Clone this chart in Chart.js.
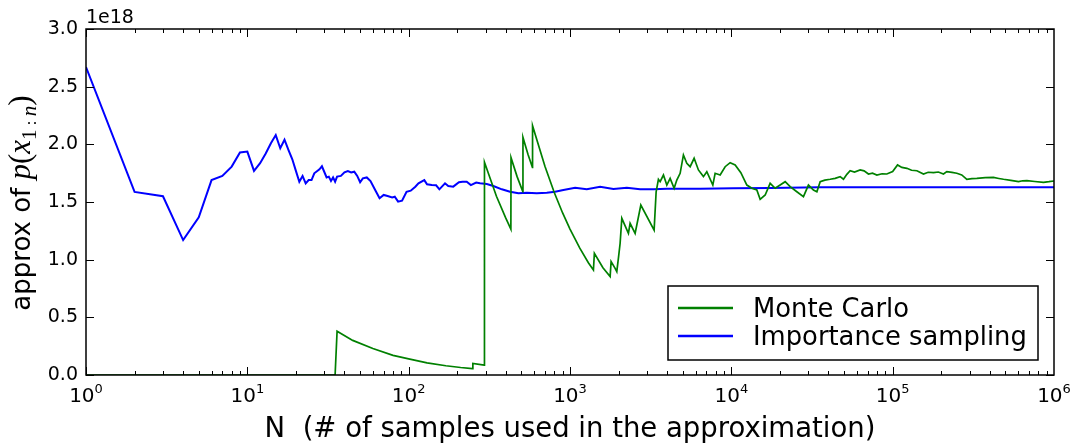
<!DOCTYPE html>
<html><head><meta charset="utf-8">
<script src="https://cdn.jsdelivr.net/npm/chart.js@4"></script>
<style>html,body{margin:0;padding:0;background:#fff}#wrap{width:1073px;height:444px}</style>
</head><body><div id="wrap"><canvas id="c" width="1073" height="444"></canvas></div>
<script>
// values in units of 1e18
const mcN=[1,35,36,45,60,80,100,130,170,210,
248,250,294,295,350,400,430,431,470,510,
511,550,585,586,700,800,900,1000,1150,1300,
1397,1416,1600,1773,1798,1904,1950,1995,2045,2095,
2302,2358,2533,2748,3322,3419,3532,3620,3795,3983,
4175,4420,4592,4816,5047,5297,5555,5879,6252,6714,
7047,7678,7935,8524,9155,9831,10560,11455,12480,13400,
14390,15090,16210,17400,18690,20070,21560,23150,25470,27990,
30060,32290,33900,35540,38000,40990,44000,47270,49550,52000,
54510,58000,62880,66500,70790,75000,79800,86000,92000,100000,
107200,114000,122500,131000,141300,155300,166000,179100,192000,206500,
216600,233000,249800,268000,288200,310000,332400,375000,421700,455000,
486500,540000,602600,640000,679500,760000,860800,930000,1000000];
const mcVal=[0,0,0.38,0.30,0.23,0.17,0.14,0.105,0.08,0.065,
0.056,0.10,0.085,1.844,1.55,1.36,1.265,1.884,1.72,1.59,
2.06,1.91,1.80,2.162,1.807,1.58,1.405,1.265,1.10,0.973,
0.91,1.055,0.93,0.853,0.983,0.925,0.896,1.012,1.142,1.358,
1.228,1.315,1.228,1.474,1.257,1.589,1.697,1.676,1.734,1.647,
1.705,1.619,1.69,1.749,1.908,1.836,1.806,1.879,1.778,1.72,
1.763,1.647,1.749,1.734,1.806,1.841,1.821,1.754,1.647,1.619,
1.604,1.523,1.561,1.662,1.619,1.647,1.676,1.633,1.589,1.546,
1.647,1.604,1.589,1.676,1.69,1.697,1.705,1.72,1.697,1.74,
1.771,1.76,1.778,1.77,1.743,1.75,1.734,1.745,1.743,1.765,
1.821,1.80,1.792,1.775,1.771,1.743,1.758,1.754,1.76,1.743,
1.763,1.757,1.749,1.735,1.697,1.703,1.705,1.712,1.713,1.704,
1.697,1.688,1.676,1.684,1.685,1.678,1.671,1.676,1.682];
const isN=[1,2,3,4,5,6,7,8,9,10,
11,12,13,14,15,16,17,18,19,20,
21,22,23,24,25,26,28,29,31,32,
33,34,35,36,38,40,42,44,46,48,
50,52,55,58,62,66,70,74,79,82,
86,91,97,103,110,115,125,130,139,148,
155,168,176,189,205,216,229,243,262,277,
305,335,378,425,479,540,622,718,808,910,
1076,1271,1538,1858,2249,2720,3289,3983,6408,10300,
17400,35540,111300,463700,1000000];
const isVal=[2.67,1.587,1.55,1.17,1.368,1.69,1.726,1.807,1.93,1.937,
1.77,1.836,1.92,2.01,2.08,1.966,2.04,1.95,1.87,1.77,
1.676,1.726,1.662,1.69,1.69,1.749,1.783,1.81,1.713,1.72,
1.682,1.713,1.676,1.72,1.726,1.757,1.769,1.757,1.763,1.726,
1.671,1.705,1.713,1.682,1.604,1.532,1.561,1.552,1.54,1.546,
1.503,1.511,1.589,1.598,1.633,1.662,1.69,1.653,1.647,1.645,
1.61,1.662,1.639,1.633,1.671,1.676,1.676,1.647,1.668,1.662,
1.656,1.639,1.61,1.589,1.575,1.581,1.575,1.581,1.589,1.604,
1.624,1.61,1.633,1.613,1.624,1.61,1.61,1.615,1.615,1.62,
1.622,1.627,1.627,1.627,1.627];
const seriesNames=['Monte Carlo','Importance sampling'];
const seriesColors=['#008000','#0000ff'];
const yTicks=[0,0.5,1,1.5,2,2.5,3];
const yTickLabels=['0.0','0.5','1.0','1.5','2.0','2.5','3.0'];
const xDecades=[0,1,2,3,4,5,6];
const offsetLabel='1e18';
const xTitle='N  (# of samples used in the approximation)';

const toPts=(xs,ys)=>xs.map((x,i)=>({x:x,y:ys[i]}));

const deco={id:'deco',
 afterDatasetsDraw(chart){
  const ctx=chart.ctx,a=chart.chartArea,xs=chart.scales.x,ys=chart.scales.y;
  ctx.save();
  ctx.strokeStyle='#000';ctx.lineWidth=1;
  ctx.beginPath();
  yTicks.forEach(v=>{const p=Math.round(ys.getPixelForValue(v))+0.5;
    ctx.moveTo(a.left,p);ctx.lineTo(a.left+8,p);ctx.moveTo(a.right,p);ctx.lineTo(a.right-8,p);});
  for(let k=0;k<6;k++){for(let m=1;m<10;m++){
    const p=Math.round(xs.getPixelForValue(m*Math.pow(10,k)))+0.5;const L=m===1?8:4;
    ctx.moveTo(p,a.bottom);ctx.lineTo(p,a.bottom-L);ctx.moveTo(p,a.top);ctx.lineTo(p,a.top+L);}}
  ctx.stroke();
  ctx.lineWidth=1.5;
  ctx.strokeRect(a.left,a.top,a.right-a.left,a.bottom-a.top);
  ctx.fillStyle='#000';
  // y tick labels
  ctx.font='19px "DejaVu Sans"';ctx.textAlign='right';ctx.textBaseline='middle';
  yTicks.forEach((v,i)=>ctx.fillText(yTickLabels[i],a.left-8,ys.getPixelForValue(v)));
  // offset
  ctx.textAlign='left';ctx.textBaseline='alphabetic';
  ctx.fillText(offsetLabel,a.left,23);
  // x tick labels
  xDecades.forEach(k=>{
    const p=xs.getPixelForValue(Math.pow(10,k));
    ctx.font='20px "DejaVu Sans"';const w1=ctx.measureText('10').width;
    ctx.font='13px "DejaVu Sans"';const w2=ctx.measureText(String(k)).width;
    const s=p-(w1+w2)/2;
    ctx.font='20px "DejaVu Sans"';ctx.fillText('10',s,402);
    ctx.font='13px "DejaVu Sans"';ctx.fillText(String(k),s+w1,393);
  });
  // x title
  ctx.font='27.5px "DejaVu Sans"';ctx.textAlign='center';
  ctx.fillText(xTitle,(a.left+a.right)/2,437);
  // y title
  const parts=[
    {t:'approx of ',f:'26px "DejaVu Sans"',dy:0},
    {t:'p',f:'italic 31px "Liberation Serif"',dy:0},
    {t:'(',f:'31px "Liberation Serif"',dy:0},
    {t:'x',f:'italic 31px "Liberation Serif"',dy:0},
    {t:'1',f:'21px "Liberation Serif"',dy:6},
    {t:' : ',f:'17px "Liberation Serif"',dy:6},
    {t:'n',f:'italic 21px "Liberation Serif"',dy:6},
    {t:')',f:'31px "Liberation Serif"',dy:0}];
  ctx.textAlign='left';
  let tot=0;parts.forEach(q=>{ctx.font=q.f;q.w=ctx.measureText(q.t).width;tot+=q.w;});
  ctx.save();ctx.translate(30,203);ctx.rotate(-Math.PI/2);
  let cx=-tot/2;parts.forEach(q=>{ctx.font=q.f;ctx.fillText(q.t,cx,q.dy);cx+=q.w;});
  ctx.restore();
  // legend
  ctx.fillStyle='#fff';ctx.fillRect(668,286,370,74);
  ctx.lineWidth=1.5;ctx.strokeStyle='#000';ctx.strokeRect(668,286,370,74);
  ctx.font='25.8px "DejaVu Sans"';ctx.textAlign='left';ctx.textBaseline='alphabetic';
  seriesNames.forEach((n,i)=>{const y=308+i*28;
    ctx.strokeStyle=seriesColors[i];ctx.lineWidth=2.5;ctx.beginPath();ctx.moveTo(678,y);ctx.lineTo(733,y);ctx.stroke();
    ctx.fillStyle='#000';ctx.fillText(n,753,y+8.5);});
  ctx.restore();
 }};

new Chart(document.getElementById('c'),{
 type:'line',
 data:{datasets:[
  {label:seriesNames[0],data:toPts(mcN,mcVal),borderColor:seriesColors[0],borderWidth:1.7,pointRadius:0,tension:0,fill:false},
  {label:seriesNames[1],data:toPts(isN,isVal),borderColor:seriesColors[1],borderWidth:2,pointRadius:0,tension:0,fill:false}]},
 options:{responsive:false,animation:false,devicePixelRatio:1,
  layout:{padding:{left:86,right:19,top:29,bottom:69}},
  plugins:{legend:{display:false},tooltip:{enabled:false}},
  scales:{
   x:{type:'logarithmic',min:1,max:1000000,display:false},
   y:{type:'linear',min:0,max:3,display:false}}},
 plugins:[deco]});
</script></body></html>
